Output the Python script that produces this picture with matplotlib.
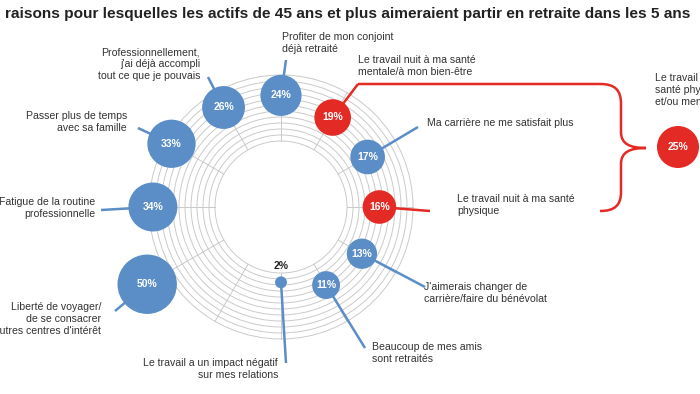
import numpy as np
import matplotlib.pyplot as plt
from matplotlib.patches import Circle, PathPatch
from matplotlib.path import Path

plt.rcParams['font.family'] = ['Liberation Sans', 'DejaVu Sans']

# data
title = "raisons pour lesquelles les actifs de 45 ans et plus aimeraient partir en retraite dans les 5 ans"

reasons = [
    "Liberté de voyager/\nde se consacrer\nà d'autres centres d'intérêt",
    "Fatigue de la routine\nprofessionnelle",
    "Passer plus de temps\navec sa famille",
    "Professionnellement,\nj'ai déjà accompli\ntout ce que je pouvais",
    "Profiter de mon conjoint\ndéjà retraité",
    "Le travail nuit à ma santé\nmentale/à mon bien-être",
    "Ma carrière ne me satisfait plus",
    "Le travail nuit à ma santé\nphysique",
    "J'aimerais changer de\ncarrière/faire du bénévolat",
    "Beaucoup de mes amis\nsont retraités",
    "Le travail a un impact négatif\nsur mes relations",
]
shares = [50, 34, 33, 26, 24, 19, 17, 16, 13, 11, 2]
health = [False, False, False, False, False, True, False, True, False, False, False]

health_label = "Le travail nuit à ma\nsanté physique\net/ou mentale"
health_share = 25

# layout (pixel coords, y down)
cx, cy = 281, 207
BLUE = '#5b8ec6'
RED = '#e42a24'
GRID = '#cacaca'
TXT = '#333333'

label_pos = [(101, 319, 'right'), (95, 208, 'right'), (127, 122, 'right'),
             (200, 64, 'right'), (282, 43, 'left'), (358, 66, 'left'),
             (427, 123, 'left'), (457, 205, 'left'), (424, 293, 'left'),
             (372, 353, 'left'), (278, 369, 'right')]
leader_end = [(115, 311), (101, 210), (138, 128), (208, 77), (286, 60), (358, 84),
              (418, 127), (430, 211), (425, 287), (365, 348), (286, 363)]


def polar(d, a):
    t = np.radians(a)
    return cx + d*np.cos(t), cy - d*np.sin(t)


def size(v):
    return 4.2*np.sqrt(v)


fig = plt.figure(figsize=(7, 3.94), dpi=100)
ax = fig.add_axes([0, 0, 1, 1])
ax.set_xlim(0, 700)
ax.set_ylim(394, 0)
ax.axis('off')

ax.text(5, 14, title, fontsize=11.1, fontweight='bold', color='#222222', va='center', ha='left')

# rings + spokes
for r in np.linspace(66, 132, 12):
    ax.add_patch(Circle((cx, cy), r, fill=False, ec=GRID, lw=0.7, zorder=1))
for a in range(0, 360, 30):
    x0, y0 = polar(66, a)
    x1, y1 = polar(132, a)
    ax.plot([x0, x1], [y0, y1], color=GRID, lw=0.7, zorder=1)

# bubbles
for i, (txt, v, hl) in enumerate(zip(reasons, shares, health)):
    ang = 210 - 30*i
    x, y = polar(72 + 1.65*v, ang)
    col = RED if hl else BLUE
    ex, ey = leader_end[i]
    ax.plot([x, ex], [y, ey], color=col, lw=1.8, zorder=2, solid_capstyle='butt')
    ax.add_patch(Circle((x, y), size(v), fc=col, ec='none', zorder=3))
    if v >= 5:
        ax.text(x, y, f"{v}%", color='white', fontsize=7.5, fontweight='bold',
                ha='center', va='center', zorder=4)
    else:
        ax.text(x, y - 16, f"{v}%", color='#222222', fontsize=7.5, fontweight='bold',
                ha='center', va='center', zorder=4)
    lx, ly, ha = label_pos[i]
    ax.text(lx, ly, txt, fontsize=7.6, color=TXT, ha=ha, va='center',
            multialignment=ha, linespacing=1.22)

# brace grouping the two health reasons
verts = [(358, 84), (600, 84),
         (615, 84), (621, 90), (621, 104),
         (621, 132),
         (621, 144), (630, 148), (646, 148),
         (630, 148), (621, 152), (621, 164),
         (621, 192),
         (621, 205), (615, 211), (600, 211)]
codes = [Path.MOVETO, Path.LINETO,
         Path.CURVE4, Path.CURVE4, Path.CURVE4,
         Path.LINETO,
         Path.CURVE4, Path.CURVE4, Path.CURVE4,
         Path.CURVE4, Path.CURVE4, Path.CURVE4,
         Path.LINETO,
         Path.CURVE4, Path.CURVE4, Path.CURVE4]
ax.add_patch(PathPatch(Path(verts, codes), fc='none', ec=RED, lw=1.8, zorder=2))

ax.add_patch(Circle((678, 147), size(health_share), fc=RED, ec='none', zorder=3))
ax.text(678, 147, f"{health_share}%", color='white', fontsize=7.5, fontweight='bold',
        ha='center', va='center', zorder=4)
ax.text(655, 90, health_label, fontsize=7.6, color=TXT, ha='left', va='center',
        linespacing=1.22)

fig.savefig('out.png', dpi=100)
